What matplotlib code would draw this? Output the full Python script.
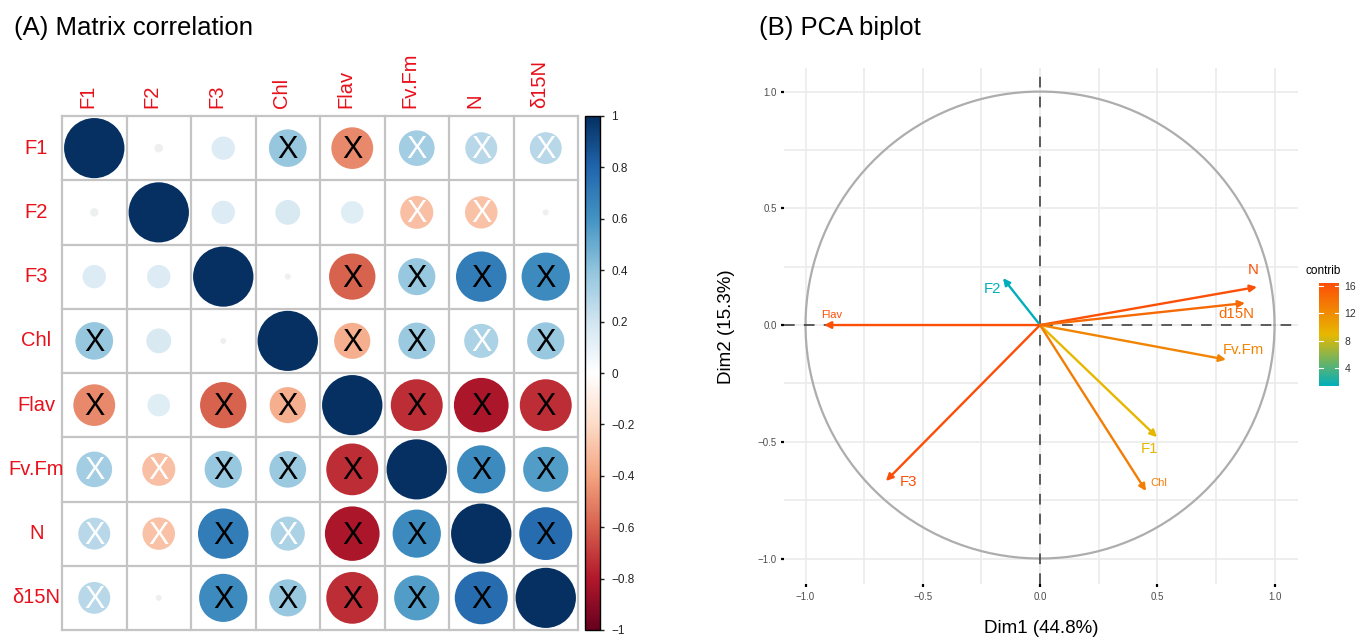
"""Two-panel figure: (A) correlation matrix drawn as circles, (B) PCA variable biplot."""

import numpy as np
import matplotlib
matplotlib.use('Agg')
import matplotlib.pyplot as plt
from matplotlib.patches import Circle, FancyArrowPatch
from matplotlib.colors import LinearSegmentedColormap, Normalize
from matplotlib.colorbar import ColorbarBase

plt.rcParams['font.family'] = ['Liberation Sans', 'DejaVu Sans']

# ---------------- data ----------------
VARS = ['F1', 'F2', 'F3', 'Chl', 'Flav', 'Fv.Fm', 'N', 'δ15N']

CORR = np.array([
    [1.00, 0.02, 0.15, 0.39, -0.48, 0.35, 0.28, 0.28],
    [0.02, 1.00, 0.15, 0.17, 0.14, -0.30, -0.29, 0.01],
    [0.15, 0.15, 1.00, 0.01, -0.59, 0.38, 0.70, 0.64],
    [0.39, 0.17, 0.01, 1.00, -0.36, 0.37, 0.32, 0.38],
    [-0.48, 0.14, -0.59, -0.36, 1.00, -0.74, -0.82, -0.74],
    [0.35, -0.30, 0.38, 0.37, -0.74, 1.00, 0.64, 0.56],
    [0.28, -0.29, 0.70, 0.32, -0.82, 0.64, 1.00, 0.77],
    [0.28, 0.01, 0.64, 0.38, -0.74, 0.56, 0.77, 1.00],
])

# cross marks: 0 none, 1 black X, 2 white X
XMARK = np.array([
    [0, 0, 0, 1, 1, 2, 2, 2],
    [0, 0, 0, 0, 0, 2, 2, 0],
    [0, 0, 0, 0, 1, 1, 1, 1],
    [1, 0, 0, 0, 1, 1, 2, 1],
    [1, 0, 1, 1, 0, 1, 1, 1],
    [2, 2, 1, 1, 1, 0, 1, 1],
    [2, 2, 1, 2, 1, 1, 0, 1],
    [2, 0, 1, 1, 1, 1, 1, 0],
])

PCA_VARS = ['F1', 'F2', 'F3', 'Chl', 'Flav', 'Fv.Fm', 'N', 'd15N']
DIM1 = [0.499, -0.158, -0.657, 0.452, -0.921, 0.793, 0.925, 0.874]
DIM2 = [-0.480, 0.201, -0.668, -0.711, 0.000, -0.148, 0.163, 0.094]
CONTRIB = [9.0, 1.4, 16.4, 13.1, 16.3, 12.5, 16.2, 14.4]
DIM1_PCT = 44.8
DIM2_PCT = 15.3

# label placement (pixel offsets from arrow tip) and font sizes
LABEL_OFFSETS = {
    'F1': (-8, -12), 'F2': (-10, -11), 'F3': (22, -1), 'Chl': (13, 8),
    'Flav': (8, 10), 'Fv.Fm': (17, 10), 'N': (-4, 17), 'd15N': (-9, -11),
}
SMALL_LABELS = {'Chl', 'Flav'}

W, H = 1363, 639
fig = plt.figure(figsize=(W / 100, H / 100), dpi=100)


def fx(px):
    return px / W


def fy(py):
    return 1 - py / H


# ---------------- (A) correlation matrix ----------------
corr_cmap = LinearSegmentedColormap.from_list('corrRdBu', [
    '#67001F', '#B2182B', '#D6604D', '#F4A582', '#FDDBC7', '#FFFFFF',
    '#D1E5F0', '#92C5DE', '#4393C3', '#2166AC', '#053061'])
corr_norm = Normalize(-1, 1)

gl, gr, gt, gb = 62, 578, 116, 630
ax = fig.add_axes([fx(gl), fy(gb), fx(gr - gl), (gb - gt) / H])
n = len(VARS)
ax.set_xlim(0, n)
ax.set_ylim(n, 0)
ax.axis('off')

for i in range(n):
    for j in range(n):
        r = CORR[i, j]
        rad = 0.468 * np.sqrt(abs(r))
        face = corr_cmap(corr_norm(r)) if abs(r) > 0.05 else '#EEF0F0'
        ax.add_patch(Circle((j + 0.5, i + 0.5), rad, facecolor=face,
                            edgecolor='none', zorder=2))
        if XMARK[i, j]:
            ax.text(j + 0.5, i + 0.53, 'X', ha='center', va='center', fontsize=22,
                    color='black' if XMARK[i, j] == 1 else 'white', zorder=3)

for k in range(n + 1):
    ax.plot([k, k], [0, n], color='#C4C4C4', lw=1.6, zorder=1, clip_on=False)
    ax.plot([0, n], [k, k], color='#C4C4C4', lw=1.6, zorder=1, clip_on=False)

for k, name in enumerate(VARS):
    ax.text(k + 0.4, -0.12, name, rotation=90, ha='center', va='bottom',
            color='#E8101A', fontsize=14.5)
    ax.text(-0.4, k + 0.5, name, ha='center', va='center',
            color='#E8101A', fontsize=14.5)

cax = fig.add_axes([fx(585), fy(gb), fx(15), (gb - gt) / H])
cb = ColorbarBase(cax, cmap=corr_cmap, norm=corr_norm, orientation='vertical')
cb.set_ticks(np.round(np.arange(-1, 1.01, 0.2), 1))
cb.set_ticklabels(['−1', '−0.8', '−0.6', '−0.4', '−0.2', '0', '0.2', '0.4', '0.6', '0.8', '1'])
cb.outline.set_linewidth(1.0)
cax.tick_params(labelsize=8.5, length=3, width=1, direction='out', pad=5, colors='#222222')

fig.text(fx(14), fy(28), '(A) Matrix correlation', fontsize=18.5, va='center', ha='left')

# ---------------- (B) PCA biplot ----------------
contrib_cmap = LinearSegmentedColormap.from_list('contrib', ['#00AFBB', '#E7B800', '#FC4E07'])
contrib_norm = Normalize(min(CONTRIB), max(CONTRIB))

xl, xr, yt, yb = 784.4, 1298.0, 68.2, 584.2
bx = fig.add_axes([fx(xl), fy(yb), fx(xr - xl), (yb - yt) / H])
bx.set_xlim(-1.09, 1.1)
bx.set_ylim(-1.11, 1.1)
for s in bx.spines.values():
    s.set_visible(False)
bx.set_xticks([-1.0, -0.5, 0.0, 0.5, 1.0])
bx.set_yticks([-1.0, -0.5, 0.0, 0.5, 1.0])
bx.set_xticks([-0.75, -0.25, 0.25, 0.75], minor=True)
bx.set_yticks([-0.75, -0.25, 0.25, 0.75], minor=True)
bx.grid(True, which='both', color='#EBEBEB', lw=1.2)
bx.set_axisbelow(True)
bx.tick_params(which='major', length=2.5, width=1.6, color='black', labelsize=7,
               labelcolor='#4D4D4D', pad=3)
bx.tick_params(which='minor', length=0)
bx.xaxis.set_major_formatter(plt.FuncFormatter(lambda v, p: f'{v:.1f}'.replace('-', '−')))
bx.yaxis.set_major_formatter(plt.FuncFormatter(lambda v, p: f'{v:.1f}'.replace('-', '−')))

t = np.linspace(0, 2 * np.pi, 300)
bx.plot(np.cos(t), np.sin(t), color='#ADADAD', lw=1.6, zorder=2)
bx.axhline(0, color='#333333', lw=1.1, ls=(0, (7, 6)), zorder=2)
bx.axvline(0, color='#333333', lw=1.1, ls=(0, (7, 6)), zorder=2)

for name, x, y, c in zip(PCA_VARS, DIM1, DIM2, CONTRIB):
    col = contrib_cmap(contrib_norm(c))
    bx.add_patch(FancyArrowPatch((0, 0), (x, y), arrowstyle='-|>', mutation_scale=10,
                                 color=col, lw=1.7, shrinkA=0, shrinkB=0, zorder=3))
    dx, dy = LABEL_OFFSETS[name]
    bx.annotate(name, (x, y), xytext=(dx * 0.72, dy * 0.72), textcoords='offset points',
                ha='center', va='center', color=col,
                fontsize=8 if name in SMALL_LABELS else 10.8, zorder=4)

bx.set_xlabel(f'Dim1 ({DIM1_PCT}%)', fontsize=13.5, labelpad=13)
bx.set_ylabel(f'Dim2 ({DIM2_PCT}%)', fontsize=13.5, labelpad=16)

lax = fig.add_axes([fx(1319), fy(386), fx(20), 103 / H])
lcb = ColorbarBase(lax, cmap=contrib_cmap, norm=contrib_norm, orientation='vertical')
lcb.set_ticks([4, 8, 12, 16])
lcb.outline.set_visible(False)
lax.tick_params(length=0, labelsize=7.5, labelcolor='#333333', pad=4)
for v in [4, 8, 12, 16]:
    lax.plot([0, 0.2], [v, v], color='white', lw=0.8, transform=lax.get_yaxis_transform())
    lax.plot([0.8, 1.0], [v, v], color='white', lw=0.8, transform=lax.get_yaxis_transform())
fig.text(fx(1305), fy(271), 'contrib', fontsize=8.5, va='center', ha='left')

fig.text(fx(759), fy(28), '(B) PCA biplot', fontsize=18.5, va='center', ha='left')

fig.savefig('out.png', dpi=100)
